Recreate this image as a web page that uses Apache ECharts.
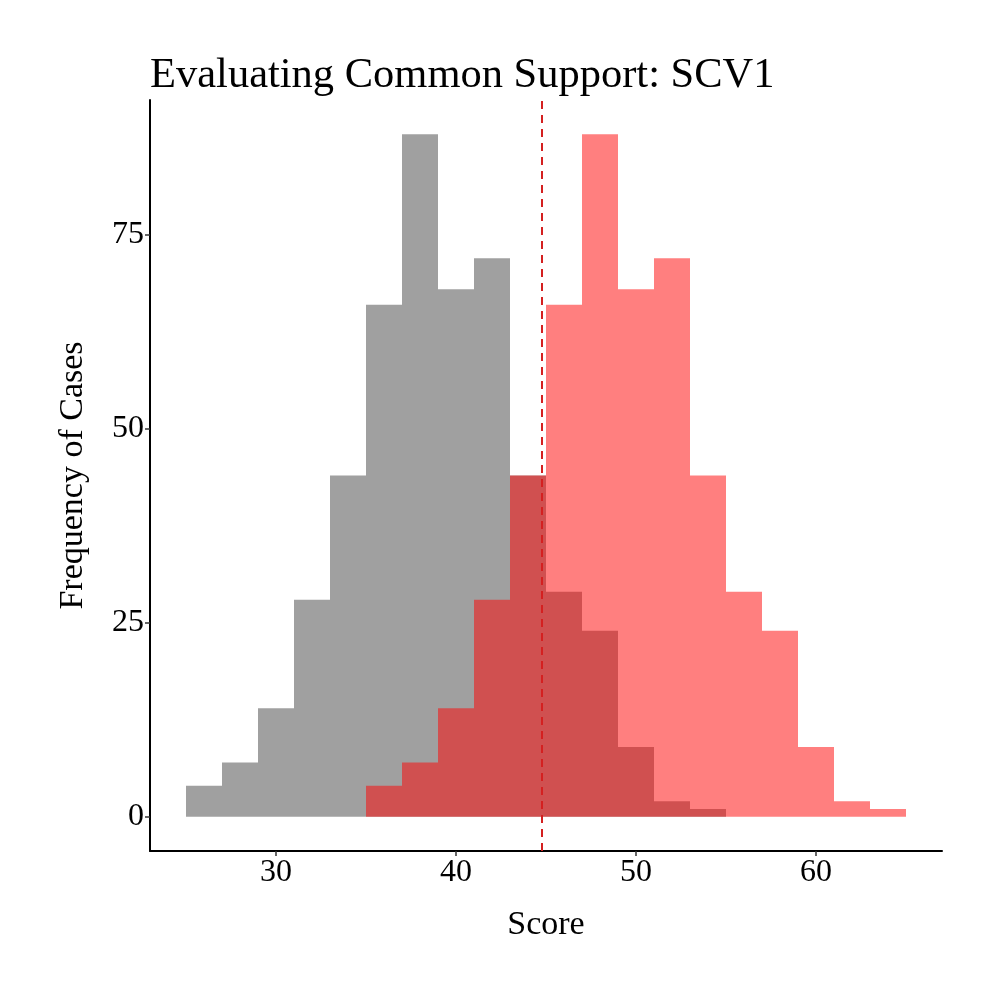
<!DOCTYPE html>
<html>
<head>
<meta charset="utf-8">
<title>Evaluating Common Support: SCV1</title>
<script src="https://cdn.jsdelivr.net/npm/echarts@6/dist/echarts.min.js"></script>
<style>
  html, body { margin: 0; padding: 0; background: #fff; }
  #chart { width: 1000px; height: 1000px; }
</style>
</head>
<body>
<div id="chart"></div>
<script>
// histogram bins (left edges), width 2
var binWidth = 2;
var controlBins = [25, 27, 29, 31, 33, 35, 37, 39, 41, 43, 45, 47, 49, 51, 53];
var controlCounts = [4, 7, 14, 28, 44, 66, 88, 68, 72, 44, 29, 24, 9, 2, 1];
var treatedBins = [35, 37, 39, 41, 43, 45, 47, 49, 51, 53, 55, 57, 59, 61, 63];
var treatedCounts = [4, 7, 14, 28, 44, 66, 88, 68, 72, 44, 29, 24, 9, 2, 1];
var cutoff = 44.75;
var xTicks = [30, 40, 50, 60];
var yTicks = [0, 25, 50, 75];

var serif = '"Liberation Serif", "Times New Roman", serif';

function toRows(bins, counts) {
    var rows = [];
    for (var i = 0; i < bins.length; i++) {
        rows.push([bins[i], bins[i] + binWidth, counts[i]]);
    }
    return rows;
}

function renderBin(params, api) {
    var p0 = api.coord([api.value(0), api.value(2)]);
    var p1 = api.coord([api.value(1), 0]);
    return {
        type: 'rect',
        shape: { x: p0[0], y: p0[1], width: p1[0] - p0[0], height: p1[1] - p0[1] },
        style: api.style()
    };
}

var option = {
    animation: false,
    backgroundColor: '#ffffff',
    title: {
        text: 'Evaluating Common Support: SCV1',
        left: 145,
        top: 49,
        textStyle: { fontFamily: serif, fontSize: 42.5, fontWeight: 'normal', color: '#000' }
    },
    grid: { left: 150, right: 58, top: 100, bottom: 149 },
    xAxis: {
        type: 'value',
        min: 23,
        max: 67,
        name: 'Score',
        nameLocation: 'middle',
        nameGap: 57,
        nameTextStyle: { fontFamily: serif, fontSize: 34, color: '#000' },
        axisLine: { onZero: false, lineStyle: { color: '#000', width: 2 } },
        axisTick: { show: true, length: 5, customValues: xTicks, lineStyle: { color: '#333', width: 1.5 } },
        axisLabel: { customValues: xTicks, margin: 6, fontFamily: serif, fontSize: 32, color: '#000' },
        splitLine: { show: false }
    },
    yAxis: {
        type: 'value',
        min: -4.4,
        max: 92.4,
        name: 'Frequency of Cases',
        nameLocation: 'middle',
        nameGap: 60,
        nameTextStyle: { fontFamily: serif, fontSize: 34, color: '#000' },
        axisLine: { show: true, onZero: false, lineStyle: { color: '#000', width: 2 } },
        axisTick: { show: true, length: 5, customValues: yTicks, lineStyle: { color: '#333', width: 1.5 } },
        axisLabel: { customValues: yTicks, margin: 6, fontFamily: serif, fontSize: 32, color: '#000' },
        splitLine: { show: false }
    },
    series: [
        {
            name: 'Control',
            type: 'custom',
            renderItem: renderBin,
            encode: { x: [0, 1], y: 2 },
            itemStyle: { color: '#a0a0a0' },
            data: toRows(controlBins, controlCounts)
        },
        {
            name: 'Treated',
            type: 'custom',
            renderItem: renderBin,
            encode: { x: [0, 1], y: 2 },
            itemStyle: { color: 'rgba(255,0,0,0.5)' },
            data: toRows(treatedBins, treatedCounts),
            markLine: {
                silent: true,
                symbol: 'none',
                label: { show: false },
                lineStyle: { color: '#d42020', width: 2, type: [8, 6] },
                data: [{ xAxis: cutoff }]
            }
        }
    ]
};

var myChart = echarts.init(document.getElementById('chart'));
myChart.setOption(option);
</script>
</body>
</html>
